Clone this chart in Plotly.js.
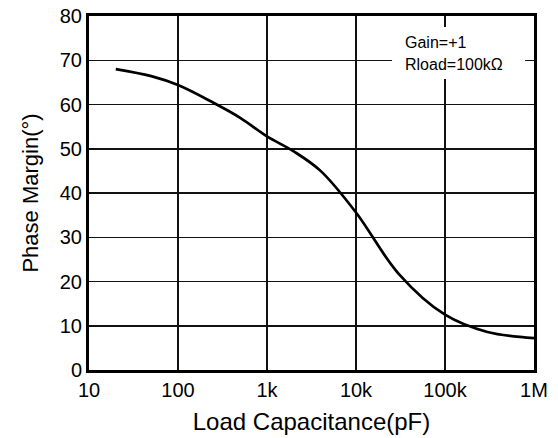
<!DOCTYPE html>
<html><head><meta charset="utf-8">
<script src="https://cdn.plot.ly/plotly-3.0.1.min.js"></script>
<style>html,body{margin:0;padding:0;background:#fff}</style>
</head><body>
<div id="chart" style="width:558px;height:438px"></div>
<script>
const loadCapacitance = [20, 50, 100, 250, 500, 1000, 2000, 4000, 10000, 30000, 100000, 300000, 1000000];
const phaseMargin = [68, 66.4, 64.4, 60.4, 57, 52.8, 49.4, 45, 35.6, 21.8, 12.5, 8.6, 7.2];
const xTickVals = [10, 100, 1000, 10000, 100000, 1000000];
const xTickText = ['10', '100', '1k', '10k', '100k', '1M'];
const yTickVals = [0, 10, 20, 30, 40, 50, 60, 70, 80];
const noteLines = ['Gain=+1', 'Rload=100kΩ'];

const font = 'Arial, "Liberation Sans", sans-serif';
const trace = {
  x: loadCapacitance, y: phaseMargin, type: 'scatter', mode: 'lines',
  line: {color: '#000', width: 2.7, shape: 'spline', smoothing: 1},
  hoverinfo: 'skip'
};
const layout = {
  width: 558, height: 438,
  margin: {l: 89, r: 24, t: 16, b: 68},
  paper_bgcolor: '#fff', plot_bgcolor: '#fff',
  showlegend: false,
  font: {family: font, color: '#000'},
  xaxis: {
    type: 'log', range: [1, 6],
    tickvals: xTickVals, ticktext: xTickText,
    showgrid: true, gridcolor: '#111', gridwidth: 1.5,
    showline: true, linecolor: '#000', linewidth: 3, mirror: true,
    ticks: '', tickfont: {size: 20, family: font, color: '#000'},
    title: {text: 'Load Capacitance(pF)', font: {size: 24, family: font, color: '#000'}, standoff: 14},
    zeroline: false
  },
  yaxis: {
    range: [0, 80], tickvals: yTickVals,
    showgrid: true, gridcolor: '#111', gridwidth: 1.5,
    showline: true, linecolor: '#000', linewidth: 3, mirror: true,
    ticks: '', tickfont: {size: 20, family: font, color: '#000'},
    title: {text: 'Phase Margin(°)', font: {size: 22, family: font, color: '#000'}, standoff: 16},
    zeroline: false
  },
  shapes: [{
    type: 'rect', xref: 'paper', yref: 'paper',
    x0: 0.681, x1: 0.980, y0: 0.822, y1: 0.969,
    fillcolor: '#fff', line: {width: 0}, layer: 'above'
  }],
  annotations: [
    {text: noteLines[0], xref: 'paper', yref: 'paper', x: 0.706, y: 0.924, xanchor: 'left', yanchor: 'middle', showarrow: false, font: {size: 16, family: font, color: '#000'}},
    {text: noteLines[1], xref: 'paper', yref: 'paper', x: 0.706, y: 0.864, xanchor: 'left', yanchor: 'middle', showarrow: false, font: {size: 16, family: font, color: '#000'}}
  ]
};
Plotly.newPlot('chart', [trace], layout, {staticPlot: true, displayModeBar: false});
</script>
</body></html>
